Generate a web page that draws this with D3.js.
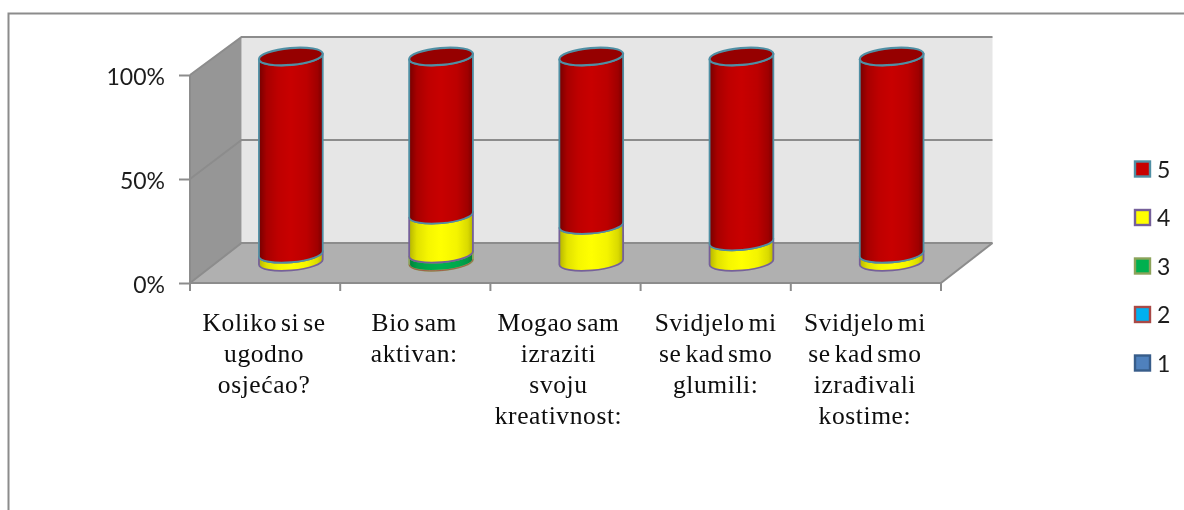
<!DOCTYPE html>
<html><head><meta charset="utf-8">
<script src="https://cdn.jsdelivr.net/npm/d3@7"></script>
<style>html,body{margin:0;padding:0;background:#fff;overflow:hidden}svg{display:block}</style>
</head><body><div id="chart"></div>
<script>
const categories = [
  ["Koliko si se","ugodno","osjećao?"],
  ["Bio sam","aktivan:"],
  ["Mogao sam","izraziti","svoju","kreativnost:"],
  ["Svidjelo mi","se kad smo","glumili:"],
  ["Svidjelo mi","se kad smo","izrađivali","kostime:"]
];
const seriesNames = ["1","2","3","4","5"];
const values1 = [0,0,0,0,0];
const values2 = [0,0,0,0,0];
const values3 = [0,4,0,0,0];
const values4 = [4,19,18,10,4];
const values5 = [96,77,82,90,96];
const allValues = [values1,values2,values3,values4,values5];
const yTicks = [0,50,100];
const fills = ["#4F81BD","#00B0F0","#00B050","#FFFF00","#C80000"];
const strokes = ["#385D8A","#A94A47","#8CA35A","#75609A","#4F8FA4"];
const darks = ["#2c4d75","#006f99","#00803a","#b5b500","#760000"];

const W=1184,H=510;
const svg=d3.select("#chart").append("svg").attr("width",W).attr("height",H);
const defs=svg.append("defs");
defs.append("filter").attr("id","soft").attr("x","-2%").attr("y","-2%").attr("width","104%").attr("height","104%")
  .append("feGaussianBlur").attr("stdDeviation",0.5);
fills.forEach((f,i)=>{
  const g=defs.append("linearGradient").attr("id","grad"+i).attr("x1",0).attr("x2",1).attr("y1",0).attr("y2",0);
  [[0,darks[i]],[0.12,d3.interpolateRgb(darks[i],f)(0.6)],[0.3,d3.interpolateRgb(darks[i],f)(0.88)],[0.5,f],[0.75,d3.interpolateRgb(darks[i],f)(0.85)],[0.92,d3.interpolateRgb(darks[i],f)(0.5)],[1,darks[i]]]
    .forEach(s=>g.append("stop").attr("offset",s[0]).attr("stop-color",s[1]));
});
const root=svg.append("g").attr("filter","url(#soft)");
const grey="#8c8c8c";

root.append("path").attr("d",`M8.5,${H}V13.5H${W}`).attr("fill","none").attr("stroke",grey).attr("stroke-width",2);

const x=d3.scaleBand().domain(d3.range(categories.length)).range([190,941]);
const y=d3.scaleLinear().domain([0,100]).range([283,75]);
const yBack=d3.scaleLinear().domain([0,100]).range([243,37]);
const yCyl=d3.scaleLinear().domain([0,100]).range([262,56.5]);
const x0=190,x1=941,backDx=51.5;
const pt=(a,b)=>a+","+b;

// walls and floor
root.append("polygon").attr("fill","#E6E6E6")
  .attr("points",[pt(x0+backDx,yBack(100)),pt(x1+backDx,yBack(100)),pt(x1+backDx,yBack(0)),pt(x0+backDx,yBack(0))].join(" "));
root.append("polygon").attr("fill","#969696")
  .attr("points",[pt(x0,y(100)),pt(x0+backDx,yBack(100)),pt(x0+backDx,yBack(0)),pt(x0,y(0))].join(" "));
root.append("polygon").attr("fill","#B0B0B0")
  .attr("points",[pt(x0,y(0)),pt(x0+backDx,yBack(0)),pt(x1+backDx,yBack(0)),pt(x1,y(0))].join(" "));
// gridlines
root.selectAll(".grid").data(yTicks).join("path").attr("class","grid").attr("fill","none")
  .attr("stroke",grey).attr("stroke-width",2)
  .attr("d",t=>`M${x0},${y(t)}L${x0+backDx},${yBack(t)}H${x1+backDx}`);
root.append("path").attr("fill","none").attr("stroke",grey).attr("stroke-width",2)
  .attr("d",`M${x1},${y(0)}L${x1+backDx},${yBack(0)}`);

// axes
const gy=root.append("g").attr("transform",`translate(${x0},0)`)
  .call(d3.axisLeft(y).tickValues(yTicks).tickSize(11).tickFormat(d=>d+"%").tickPadding(14));
gy.select(".domain").attr("stroke",grey).attr("stroke-width",2).attr("d",`M0,${y(100)}V${y(0)}`);
gy.selectAll("line").attr("stroke",grey).attr("stroke-width",2);
gy.selectAll("text").attr("font-family","Lato").attr("font-size",23).attr("fill","#1c1c1c").attr("dy","0.40em");

const gx=root.append("g").attr("transform",`translate(0,${y(0)})`)
  .call(d3.axisBottom(x.copy()).tickValues([]).tickSize(0));
gx.select(".domain").attr("stroke",grey).attr("stroke-width",2).attr("d",`M${x0},0H${x1}`);
gx.selectAll(".edge").data(d3.range(categories.length+1)).join("line").attr("class","edge")
  .attr("x1",i=>x0+i*x.step()).attr("x2",i=>x0+i*x.step()).attr("y1",0).attr("y2",8)
  .attr("stroke",grey).attr("stroke-width",2);

// cylinders
const rx=32, ry=8.5, tilt=-5, rad=tilt*Math.PI/180;
const cx=i=>x(i)+x.bandwidth()/2+backDx/2;
const dx=rx*Math.cos(rad), dy=rx*Math.sin(rad);
const body=(c,a,b)=>`M${c-dx},${a-dy}A${rx},${ry},${tilt},0,0,${c+dx},${a+dy}L${c+dx},${b+dy}A${rx},${ry},${tilt},0,1,${c-dx},${b-dy}Z`;
categories.forEach((_,i)=>{
  const stack=d3.cumsum(allValues.map(s=>s[i]));
  const g=root.append("g");
  allValues.forEach((s,k)=>{
    if(s[i]===0) return;
    const lo=k?stack[k-1]:0, hi=stack[k];
    g.append("path").attr("d",body(cx(i),yCyl(lo),yCyl(hi))).attr("fill",`url(#grad${k})`)
      .attr("stroke",strokes[k]).attr("stroke-width",1.8).attr("stroke-linejoin","round");
  });
  if(values3[i]>0){
    g.append("path").attr("fill","none").attr("stroke",strokes[1]).attr("stroke-width",1).attr("opacity",0.8)
      .attr("d",`M${cx(i)-dx},${yCyl(0)-dy}A${rx},${ry},${tilt},0,0,${cx(i)+dx},${yCyl(0)+dy}`);
  }
  g.append("ellipse").attr("rx",rx).attr("ry",ry).attr("transform",`translate(${cx(i)},${yCyl(100)}) rotate(${tilt})`)
    .attr("fill","#960000").attr("stroke",strokes[4]).attr("stroke-width",2.2);
});

// category labels
const labelNudge=[-1,-1,-7,0,-1];
const labels=root.selectAll(".cat").data(categories).join("text").attr("class","cat")
  .attr("text-anchor","middle").attr("font-family","Liberation Serif").attr("font-size",25.5)
  .attr("fill","#0a0a0a").attr("letter-spacing",0.6).attr("word-spacing",-3);
labels.each(function(lines,i){
  d3.select(this).selectAll("tspan").data(lines).join("tspan")
    .attr("x",x(i)+x.bandwidth()/2+labelNudge[i])
    .attr("y",(d,j)=>331+j*31)
    .text(d=>d);
});

// legend
const legendY=d3.scalePoint().domain(seriesNames.slice().reverse()).range([169,363]);
const lg=root.selectAll(".lg").data(seriesNames).join("g").attr("class","lg")
  .attr("transform",d=>`translate(1134,${legendY(d)})`);
lg.append("rect").attr("x",1).attr("y",-7.5).attr("width",15).attr("height",15)
  .attr("fill",(d,i)=>fills[i]).attr("stroke",(d,i)=>strokes[i]).attr("stroke-width",2.4);
lg.append("text").attr("x",23).attr("dy","0.37em").attr("font-family","Lato").attr("font-size",23).attr("fill","#1c1c1c").text(d=>d);
</script></body></html>
